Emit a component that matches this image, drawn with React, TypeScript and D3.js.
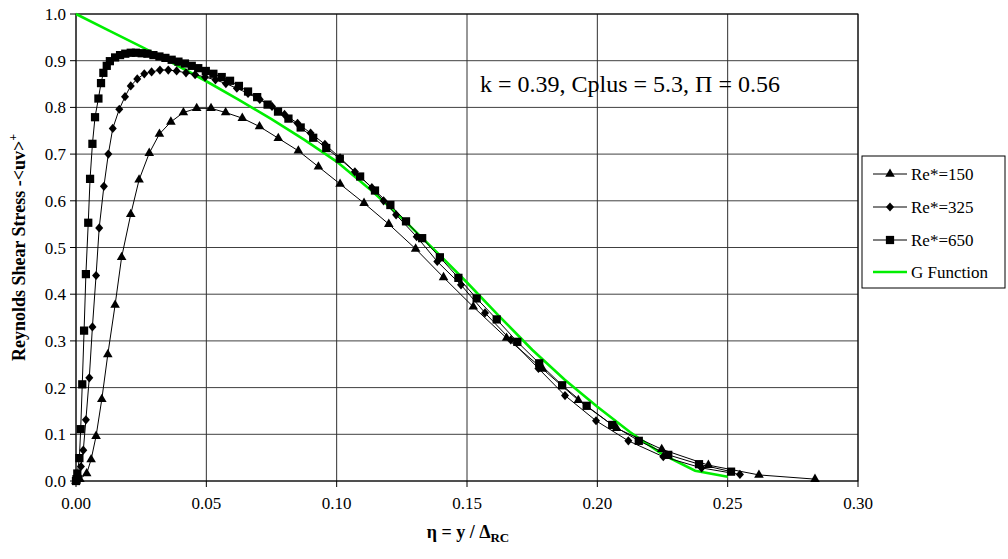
import React from 'react';
import * as d3 from 'd3';

// ---- data ----
const re150X = [0, 0.0015, 0.0041, 0.0058, 0.0077, 0.0099, 0.0122, 0.015, 0.0175, 0.021, 0.0242, 0.0281, 0.032, 0.0364, 0.0412, 0.0463, 0.0518, 0.0574, 0.0638, 0.0704, 0.0776, 0.0853, 0.093, 0.1013, 0.1105, 0.12, 0.1303, 0.141, 0.1524, 0.1652, 0.179, 0.1927, 0.2074, 0.2247, 0.2426, 0.262, 0.2835];
const re150Y = [0, 0.004, 0.016, 0.046, 0.096, 0.175, 0.271, 0.377, 0.479, 0.571, 0.645, 0.702, 0.743, 0.769, 0.789, 0.798, 0.798, 0.789, 0.777, 0.759, 0.734, 0.707, 0.673, 0.636, 0.595, 0.55, 0.497, 0.436, 0.373, 0.306, 0.24, 0.173, 0.113, 0.068, 0.034, 0.013, 0.004];

const re325X = [0, 0.0005, 0.001, 0.0019, 0.0028, 0.0038, 0.0051, 0.0063, 0.0077, 0.0089, 0.0107, 0.0124, 0.0141, 0.0166, 0.0188, 0.021, 0.0235, 0.0262, 0.029, 0.0322, 0.0354, 0.0386, 0.0422, 0.0457, 0.0495, 0.0535, 0.0575, 0.0617, 0.066, 0.0705, 0.0752, 0.08, 0.085, 0.09, 0.0955, 0.1013, 0.107, 0.1135, 0.118, 0.1228, 0.1307, 0.1386, 0.1477, 0.1569, 0.1668, 0.1774, 0.1876, 0.1995, 0.2119, 0.2253, 0.24, 0.2547];
const re325Y = [0, 0.003, 0.01, 0.031, 0.066, 0.131, 0.221, 0.33, 0.44, 0.542, 0.631, 0.7, 0.755, 0.796, 0.823, 0.846, 0.861, 0.872, 0.876, 0.88, 0.88, 0.878, 0.874, 0.87, 0.865, 0.859, 0.851, 0.841, 0.83, 0.817, 0.802, 0.785, 0.766, 0.745, 0.721, 0.692, 0.662, 0.628, 0.6, 0.57, 0.523, 0.47, 0.42, 0.36, 0.302, 0.241, 0.183, 0.129, 0.086, 0.052, 0.028, 0.014];

const re650X = [0, 0.0002, 0.0005, 0.0013, 0.0018, 0.0024, 0.0031, 0.0038, 0.0047, 0.0054, 0.0063, 0.0073, 0.0086, 0.0096, 0.0105, 0.0118, 0.013, 0.015, 0.0169, 0.0189, 0.021, 0.023, 0.0252, 0.0274, 0.0297, 0.032, 0.0343, 0.0367, 0.0393, 0.0418, 0.0444, 0.0469, 0.0498, 0.0527, 0.0559, 0.0591, 0.0625, 0.066, 0.0695, 0.0735, 0.0775, 0.0815, 0.0862, 0.091, 0.096, 0.1012, 0.109, 0.1147, 0.1206, 0.1266, 0.1328, 0.1396, 0.1467, 0.1537, 0.1614, 0.1693, 0.1777, 0.1865, 0.1959, 0.2057, 0.2159, 0.2272, 0.239, 0.2513];
const re650Y = [0, 0.004, 0.016, 0.049, 0.111, 0.207, 0.322, 0.443, 0.553, 0.647, 0.722, 0.779, 0.819, 0.852, 0.874, 0.889, 0.899, 0.907, 0.912, 0.915, 0.917, 0.917, 0.916, 0.915, 0.912, 0.909, 0.906, 0.902, 0.898, 0.894, 0.889, 0.884, 0.878, 0.872, 0.865, 0.857, 0.846, 0.834, 0.822, 0.806, 0.791, 0.776, 0.757, 0.735, 0.713, 0.69, 0.652, 0.622, 0.591, 0.556, 0.52, 0.479, 0.435, 0.391, 0.346, 0.298, 0.252, 0.205, 0.161, 0.12, 0.086, 0.056, 0.036, 0.02];

const gX = [0, 0.0125, 0.025, 0.0375, 0.05, 0.0625, 0.075, 0.0875, 0.1, 0.1125, 0.125, 0.1375, 0.15, 0.1625, 0.175, 0.1875, 0.2, 0.2125, 0.225, 0.2375, 0.25];
const gY = [1.0, 0.965, 0.93, 0.894, 0.856, 0.816, 0.775, 0.731, 0.684, 0.626, 0.563, 0.495, 0.425, 0.352, 0.281, 0.217, 0.159, 0.105, 0.057, 0.022, 0.009];

const xTicks = [0, 0.05, 0.1, 0.15, 0.2, 0.25, 0.3];
const yTicks = [0, 0.1, 0.2, 0.3, 0.4, 0.5, 0.6, 0.7, 0.8, 0.9, 1.0];
const legendLabels = ['Re*=150', 'Re*=325', 'Re*=650', 'G Function'];
const annotation = 'k = 0.39, Cplus = 5.3, \u03A0 = 0.56';

const FONT = "Liberation Serif, DejaVu Serif, Times New Roman, serif";

const triPath = d3.symbol().type(d3.symbolTriangle).size(40)() as string;
const sqPath = d3.symbol().type(d3.symbolSquare).size(68)() as string;
const diaPath = 'M0,-4.6L4,0L0,4.6L-4,0Z';

export default function App() {
  const W = 1008, H = 559;
  const L = 76, R = 858, T = 14, B = 481;
  const x = d3.scaleLinear().domain([0, 0.3]).range([L, R]);
  const y = d3.scaleLinear().domain([0, 1]).range([B, T]);

  const mk = (xs: number[], ys: number[]) => xs.map((v, i) => [x(v), y(ys[i])] as [number, number]);
  const s150 = mk(re150X, re150Y);
  const s325 = mk(re325X, re325Y);
  const s650 = mk(re650X, re650Y);
  const sG = mk(gX, gY);
  const path = d3.line();

  const series = [
    { pts: s150, shape: triPath },
    { pts: s325, shape: diaPath },
    { pts: s650, shape: sqPath },
  ];

  const legX = 862, legY = 156, legW = 143, legH = 132;
  const rowY = [174, 207, 240, 272];

  return (
    <div style={{ position: 'absolute', left: 0, top: 0 }}>
      <svg width={W} height={H} style={{ display: 'block', background: '#fff', fontFamily: FONT }}>
        {/* grid */}
        {yTicks.map((t) => (
          <line key={'gy' + t} x1={L} x2={R} y1={y(t)} y2={y(t)} stroke="#404040" strokeWidth={1} />
        ))}
        {xTicks.map((t) => (
          <line key={'gx' + t} x1={x(t)} x2={x(t)} y1={T} y2={B} stroke="#303030" strokeWidth={1} />
        ))}
        <rect x={L} y={T} width={R - L} height={B - T} fill="none" stroke="#000" strokeWidth={1} />
        {/* ticks */}
        {xTicks.map((t) => (
          <line key={'tx' + t} x1={x(t)} x2={x(t)} y1={B} y2={B + 6} stroke="#000" />
        ))}
        {yTicks.map((t) => (
          <line key={'ty' + t} x1={L - 6} x2={L} y1={y(t)} y2={y(t)} stroke="#000" />
        ))}
        {xTicks.map((t) => (
          <text key={'lx' + t} x={x(t)} y={509} textAnchor="middle" fontSize={17}>
            {t.toFixed(2)}
          </text>
        ))}
        {yTicks.map((t) => (
          <text key={'ly' + t} x={66} y={y(t) + 6} textAnchor="end" fontSize={17}>
            {t.toFixed(1)}
          </text>
        ))}
        {/* G function */}
        <path d={path(sG) as string} fill="none" stroke="#00ee00" strokeWidth={2.6} />
        {/* series */}
        {series.map((s, i) => (
          <g key={'s' + i}>
            <path d={path(s.pts) as string} fill="none" stroke="#000" strokeWidth={1} />
            {s.pts.map((p, j) => (
              <path key={j} d={s.shape} transform={`translate(${p[0]},${p[1]})`} fill="#000" />
            ))}
          </g>
        ))}
        {/* annotation */}
        <text x={480} y={92} fontSize={24}>{annotation}</text>
        {/* axis titles */}
        <text x={468} y={538} textAnchor="middle" fontSize={18} fontWeight="bold">
          {'\u03B7 = y / \u0394'}
          <tspan fontSize={13} dy={4}>RC</tspan>
        </text>
        <text transform={`translate(25,${(T + B) / 2}) rotate(-90)`} textAnchor="middle" fontSize={18} fontWeight="bold">
          {'Reynolds Shear Stress -<uv>'}
          <tspan fontSize={12} dy={-8}>+</tspan>
        </text>
        {/* legend */}
        <rect x={legX} y={legY} width={legW} height={legH} fill="#fff" stroke="#000" strokeWidth={1} />
        {legendLabels.map((lab, i) => (
          <g key={'lg' + i}>
            {i < 3 ? (
              <>
                <line x1={873} x2={907} y1={rowY[i]} y2={rowY[i]} stroke="#000" strokeWidth={1} />
                <path d={series[i].shape} transform={`translate(890,${rowY[i]})`} fill="#000" />
              </>
            ) : (
              <line x1={873} x2={907} y1={rowY[i]} y2={rowY[i]} stroke="#00ee00" strokeWidth={2.6} />
            )}
            <text x={911} y={rowY[i] + 6} fontSize={17}>{lab}</text>
          </g>
        ))}
      </svg>
    </div>
  );
}
